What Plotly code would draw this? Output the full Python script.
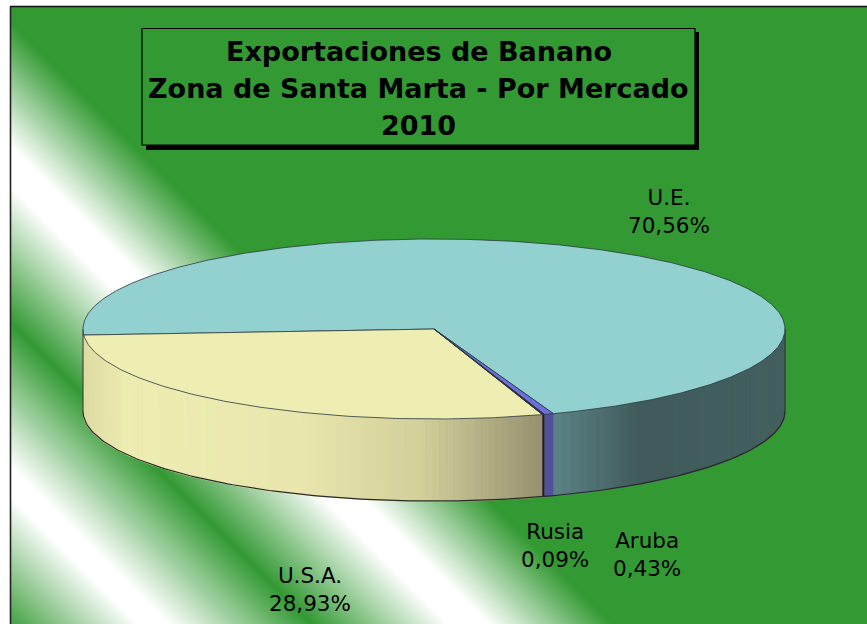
import numpy as np
import plotly.graph_objects as go

# --- data ---
categories = ["U.S.A.", "U.E.", "Aruba", "Rusia"]
values = [28.93, 70.56, 0.43, 0.09]
value_labels = ["28,93%", "70,56%", "0,43%", "0,09%"]
title_lines = ["Exportaciones de Banano", "Zona de Santa Marta - Por Mercado", "2010"]

# --- styling ---
W, H = 867, 624
CX, CY, RX, RY, DEPTH = 434, 329, 351, 90, 82
START = 72.0
GREEN = "#339933"
TOP = {"U.S.A.": "#EEEDB2", "U.E.": "#93D0D0", "Aruba": "#6E6EE0", "Rusia": "#3A1030"}
SIDE = {
    "U.S.A.": [(83, "#DEDBA3"), (130, "#EEEDB2"), (300, "#E9E7AD"), (420, "#D3D09C"), (545, "#94906F")],
    "U.E.": [(545, "#5F888A"), (640, "#415B5C"), (785, "#44605F")],
    "Aruba": [(500, "#50509C"), (600, "#50509C")],
    "Rusia": [(500, "#3A1030"), (600, "#3A1030")],
}
LABEL_POS = {"U.S.A.": (310, 589), "U.E.": (669, 211), "Aruba": (647, 554), "Rusia": (555, 545)}
TITLE_Y = [51, 88, 125]
FONT = "DejaVu Sans"


def hex2rgb(c):
    return np.array([int(c[i:i + 2], 16) for i in (1, 3, 5)], float)


def side_color(stops, x):
    xs = [s[0] for s in stops]
    rgb = np.array([hex2rgb(s[1]) for s in stops])
    return "rgb(%d,%d,%d)" % tuple(np.interp(x, xs, rgb[:, k]) for k in range(3))


fig = go.Figure()

# background: diagonal green / white bands
gx = np.arange(11, W + 5, 4.0)
gy = np.arange(7, H + 5, 4.0)
gz = gx[None, :] - gy[:, None]
band = [(-625, GREEN), (-485, "#FFFFFF"), (-455, "#FFFFFF"), (-312, GREEN),
        (-175, "#FFFFFF"), (-135, "#FFFFFF"), (-12, GREEN), (860, GREEN)]
zmin, zmax = band[0][0], band[-1][0]
fig.add_trace(go.Heatmap(x=gx, y=gy, z=gz, zmin=zmin, zmax=zmax, zsmooth="best", showscale=False,
                         hoverinfo="skip",
                         colorscale=[[(v - zmin) / (zmax - zmin), c] for v, c in band]))

# wedge spans from the values
total = sum(values)
spans = {}
a = START
for c, v in zip(categories, values):
    spans[c] = (a, a + v / total * 360)
    a += v / total * 360


def ex(t):
    return CX + RX * np.cos(np.radians(t))


def ey(t):
    return CY + RY * np.sin(np.radians(t))


# side walls: only the near half of the ellipse (0..180 deg)
for c in categories:
    a0, a1 = spans[c]
    for lo, hi in ((a0, a1), (a0 - 360, a1 - 360)):
        lo, hi = max(lo, 0), min(hi, 180)
        if hi <= lo or hi - lo < 5 and c == "U.E." and lo > 90:
            continue
        n = max(1, int(abs(ex(lo) - ex(hi)) / 5))
        ts = np.linspace(lo, hi, n + 1)
        for t0, t1 in zip(ts[:-1], ts[1:]):
            tt = np.linspace(t0, t1, 4)
            xs = np.concatenate([ex(tt), ex(tt[::-1])])
            ys = np.concatenate([ey(tt), ey(tt[::-1]) + DEPTH])
            col = side_color(SIDE[c], (ex(t0) + ex(t1)) / 2)
            fig.add_trace(go.Scatter(x=xs, y=ys, mode="lines", fill="toself", fillcolor=col,
                                     line=dict(color=col, width=1.5 if c in ("U.S.A.", "U.E.") else 0.3),
                                     hoverinfo="skip"))

# lower outline of the wall and vertical edges
tt = np.linspace(0, 180, 181)
fig.add_trace(go.Scatter(x=ex(tt), y=ey(tt) + DEPTH, mode="lines", line=dict(color="#2A2A2A", width=1.2), hoverinfo="skip"))
for t in (0, 180):
    fig.add_trace(go.Scatter(x=[ex(t), ex(t)], y=[ey(t), ey(t) + DEPTH], mode="lines",
                             line=dict(color="#333333", width=1), hoverinfo="skip"))

# top faces
for c in ["U.E.", "U.S.A.", "Aruba", "Rusia"]:
    a0, a1 = spans[c]
    tt = np.linspace(a0, a1, max(3, int(a1 - a0) * 2))
    xs = np.concatenate([[CX], ex(tt), [CX]])
    ys = np.concatenate([[CY], ey(tt), [CY]])
    fig.add_trace(go.Scatter(x=xs, y=ys, mode="lines", fill="toself", fillcolor=TOP[c],
                             line=dict(color="#2A3A40", width=0.8), hoverinfo="skip"))

# title box shadow + box
shapes = [
    dict(type="rect", xref="x", yref="y", x0=146, y0=32, x1=699, y1=150, fillcolor="black", line_width=0, layer="above"),
    dict(type="rect", xref="x", yref="y", x0=142, y0=28.5, x1=695, y1=145, fillcolor=GREEN,
         line=dict(color="black", width=1.2), layer="above"),
    dict(type="rect", xref="x", yref="y", x0=0, y0=0, x1=10, y1=H, fillcolor="white", line_width=0, layer="above"),
    dict(type="rect", xref="x", yref="y", x0=0, y0=0, x1=W, y1=6, fillcolor="white", line_width=0, layer="above"),
    dict(type="line", xref="x", yref="y", x0=10.5, y0=6.5, x1=10.5, y1=H, line=dict(color="#222222", width=1.6), layer="above"),
    dict(type="line", xref="x", yref="y", x0=10, y0=6.5, x1=W, y1=6.5, line=dict(color="#111111", width=1.6), layer="above"),
]

annotations = []
for line, ty in zip(title_lines, TITLE_Y):
    annotations.append(dict(x=418.5, y=ty, xref="x", yref="y", text="<b>%s</b>" % line,
                            showarrow=False, align="center", xanchor="center", yanchor="middle",
                            font=dict(family=FONT, size=27, color="black")))
for c, lab in zip(categories, value_labels):
    px, py = LABEL_POS[c]
    annotations.append(dict(x=px, y=py, xref="x", yref="y", text="%s<br>%s" % (c, lab), showarrow=False,
                            align="center", xanchor="center", yanchor="middle",
                            font=dict(family=FONT, size=21.5, color="black")))

fig.update_layout(
    width=W, height=H, margin=dict(l=0, r=0, t=0, b=0), autosize=False,
    paper_bgcolor="white", plot_bgcolor="white", showlegend=False,
    xaxis=dict(range=[0, W], visible=False, fixedrange=True),
    yaxis=dict(range=[H, 0], visible=False, fixedrange=True),
    shapes=shapes, annotations=annotations,
)
fig.write_html("out.html", config={"displayModeBar": False},
               post_script="document.body.style.margin='0';document.documentElement.style.overflow='hidden';")
